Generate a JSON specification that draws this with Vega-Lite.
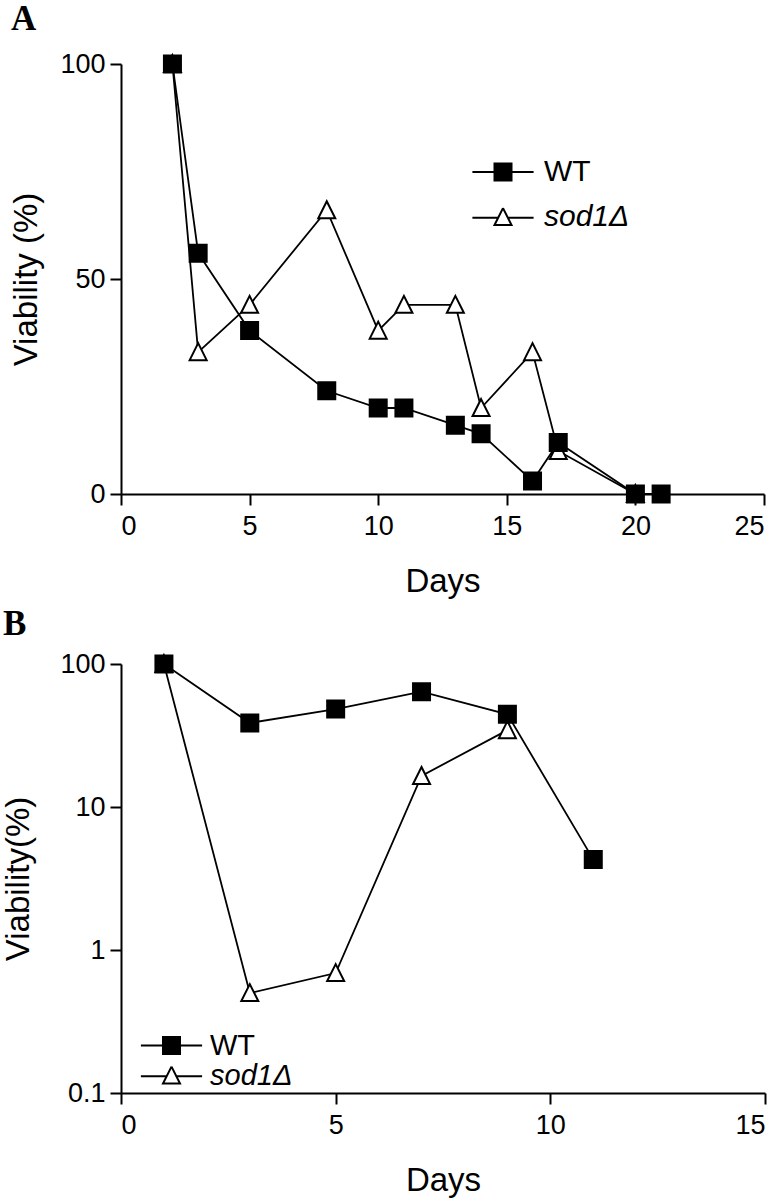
{
  "$schema": "https://vega.github.io/schema/vega-lite/v6.json",
  "padding": {"left": 2, "top": 2, "right": 5, "bottom": 2},
  "background": "white",
  "spacing": 9,
  "align": "none",
  "resolve": {"scale": {"shape": "independent", "fill": "independent"}, "legend": {"shape": "independent", "fill": "independent"}},
  "config": {
    "view": {"stroke": null},
    "axis": {
      "grid": false,
      "domainColor": "black",
      "domainWidth": 2,
      "tickColor": "black",
      "tickWidth": 2,
      "tickSize": 11,
      "labelFont": "Liberation Sans",
      "labelFontSize": 27,
      "labelColor": "black",
      "titleFont": "Liberation Sans",
      "titleFontSize": 33,
      "titleFontWeight": "normal",
      "titleColor": "black"
    },
    "legend": {
      "labelFont": "Liberation Sans",
      "labelFontSize": 29,
      "labelColor": "black",
      "padding": 0
    },
    "title": {
      "font": "Liberation Serif",
      "fontSize": 35,
      "fontWeight": "bold",
      "color": "black",
      "anchor": "start",
      "frame": "bounds"
    }
  },
  "datasets": {
    "a": [
      {"strain": "sod1Δ", "day": 2, "viability": 100},
      {"strain": "sod1Δ", "day": 3, "viability": 33},
      {"strain": "sod1Δ", "day": 5, "viability": 44},
      {"strain": "sod1Δ", "day": 8, "viability": 66},
      {"strain": "sod1Δ", "day": 10, "viability": 38},
      {"strain": "sod1Δ", "day": 11, "viability": 44},
      {"strain": "sod1Δ", "day": 13, "viability": 44},
      {"strain": "sod1Δ", "day": 14, "viability": 20},
      {"strain": "sod1Δ", "day": 16, "viability": 33},
      {"strain": "sod1Δ", "day": 17, "viability": 10},
      {"strain": "sod1Δ", "day": 20, "viability": 0},
      {"strain": "WT", "day": 2, "viability": 100},
      {"strain": "WT", "day": 3, "viability": 56},
      {"strain": "WT", "day": 5, "viability": 38},
      {"strain": "WT", "day": 8, "viability": 24},
      {"strain": "WT", "day": 10, "viability": 20},
      {"strain": "WT", "day": 11, "viability": 20},
      {"strain": "WT", "day": 13, "viability": 16},
      {"strain": "WT", "day": 14, "viability": 14},
      {"strain": "WT", "day": 16, "viability": 3},
      {"strain": "WT", "day": 17, "viability": 12},
      {"strain": "WT", "day": 20, "viability": 0},
      {"strain": "WT", "day": 21, "viability": 0}
    ],
    "b": [
      {"strain": "sod1Δ", "day": 1, "viability": 100},
      {"strain": "sod1Δ", "day": 3, "viability": 0.5},
      {"strain": "sod1Δ", "day": 5, "viability": 0.69},
      {"strain": "sod1Δ", "day": 7, "viability": 16.5},
      {"strain": "sod1Δ", "day": 9, "viability": 34.5},
      {"strain": "WT", "day": 1, "viability": 100},
      {"strain": "WT", "day": 3, "viability": 38.7},
      {"strain": "WT", "day": 5, "viability": 48.4},
      {"strain": "WT", "day": 7, "viability": 64},
      {"strain": "WT", "day": 9, "viability": 44.5},
      {"strain": "WT", "day": 11, "viability": 4.3}
    ]
  },
  "vconcat": [
    {
      "title": {"text": "A", "offset": 13},
      "width": 643,
      "height": 430,
      "data": {"name": "a"},
      "resolve": {"scale": {"shape": "independent"}, "legend": {"shape": "independent"}},
      "encoding": {
        "x": {"field": "day", "type": "quantitative",
              "scale": {"domain": [0, 25], "nice": false},
              "axis": {"title": "Days", "values": [0, 5, 10, 15, 20, 25], "labelPadding": 8, "titlePadding": 26}},
        "y": {"field": "viability", "type": "quantitative",
              "scale": {"domain": [0, 100], "nice": false},
              "axis": {"title": "Viability (%)", "values": [0, 50, 100], "labelPadding": 5, "titlePadding": 16}}
      },
      "layer": [
        {
          "mark": {"type": "line", "color": "black", "strokeWidth": 1.8},
          "encoding": {"detail": {"field": "strain"}}
        },
        {
          "mark": {"type": "point", "filled": false, "stroke": "black", "strokeWidth": 2, "opacity": 1, "size": 289},
          "encoding": {
            "shape": {"field": "strain", "type": "nominal",
              "scale": {"domain": ["WT", "sod1Δ"], "range": ["square", "M0,-1.05L1,0.95L-1,0.95Z"]},
              "legend": null},
            "fill": {"field": "strain", "type": "nominal",
              "scale": {"domain": ["WT", "sod1Δ"], "range": ["black", "white"]},
              "legend": null}
          }
        },
        {
          "transform": [{"filter": "false"}],
          "mark": {"type": "point", "filled": false, "stroke": "black", "strokeWidth": 2, "opacity": 1, "size": 289},
          "encoding": {
            "shape": {"field": "strain", "type": "nominal",
              "scale": {"domain": ["WT", "sod1Δ"], "range": ["M-3.6,0H-1M1,0H3.6M-1,-1H1V1H-1Z", "M-3.6,0.1H-0.58M0.58,0.1H3.6M0,-1.05L1,0.95L-1,0.95L0,-1.05L-1,0.95L1,0.95Z"]},
              "legend": {
                "title": null, "orient": "none", "legendX": 367, "legendY": 93,
                "symbolSize": 289, "symbolStrokeWidth": 2,
                "labelOffset": 26, "rowPadding": 15, "labelFontSize": 30,
                "labelFontStyle": {"expr": "datum.value === 'WT' ? 'normal' : 'italic'"}
              }},
            "fill": {"field": "strain", "type": "nominal",
              "scale": {"domain": ["WT", "sod1Δ"], "range": ["black", "white"]},
              "legend": null}
          }
        }
      ]
    },
    {
      "title": {"text": "B", "offset": 8},
      "width": 644,
      "height": 429,
      "data": {"name": "b"},
      "resolve": {"scale": {"shape": "independent"}, "legend": {"shape": "independent"}},
      "encoding": {
        "x": {"field": "day", "type": "quantitative",
              "scale": {"domain": [0, 15], "nice": false},
              "axis": {"title": "Days", "values": [0, 5, 10, 15], "labelPadding": 8, "titlePadding": 26}},
        "y": {"field": "viability", "type": "quantitative",
              "scale": {"type": "log", "domain": [0.1, 100], "nice": false},
              "axis": {"title": "Viability(%)", "values": [0.1, 1, 10, 100], "format": "~g", "labelPadding": 5, "titlePadding": 24}}
      },
      "layer": [
        {
          "mark": {"type": "line", "color": "black", "strokeWidth": 1.8},
          "encoding": {"detail": {"field": "strain"}}
        },
        {
          "mark": {"type": "point", "filled": false, "stroke": "black", "strokeWidth": 2, "opacity": 1, "size": 289},
          "encoding": {
            "shape": {"field": "strain", "type": "nominal",
              "scale": {"domain": ["WT", "sod1Δ"], "range": ["square", "M0,-1.05L1,0.95L-1,0.95Z"]},
              "legend": null},
            "fill": {"field": "strain", "type": "nominal",
              "scale": {"domain": ["WT", "sod1Δ"], "range": ["black", "white"]},
              "legend": null}
          }
        },
        {
          "transform": [{"filter": "false"}],
          "mark": {"type": "point", "filled": false, "stroke": "black", "strokeWidth": 2, "opacity": 1, "size": 289},
          "encoding": {
            "shape": {"field": "strain", "type": "nominal",
              "scale": {"domain": ["WT", "sod1Δ"], "range": ["M-3.6,0H-1M1,0H3.6M-1,-1H1V1H-1Z", "M-3.6,0.1H-0.58M0.58,0.1H3.6M0,-1.05L1,0.95L-1,0.95L0,-1.05L-1,0.95L1,0.95Z"]},
              "legend": {
                "title": null, "orient": "none", "legendX": 36, "legendY": 367,
                "symbolSize": 289, "symbolStrokeWidth": 2,
                "labelOffset": 24, "rowPadding": -2, "labelFontSize": 29,
                "labelFontStyle": {"expr": "datum.value === 'WT' ? 'normal' : 'italic'"}
              }},
            "fill": {"field": "strain", "type": "nominal",
              "scale": {"domain": ["WT", "sod1Δ"], "range": ["black", "white"]},
              "legend": null}
          }
        }
      ]
    }
  ]
}
